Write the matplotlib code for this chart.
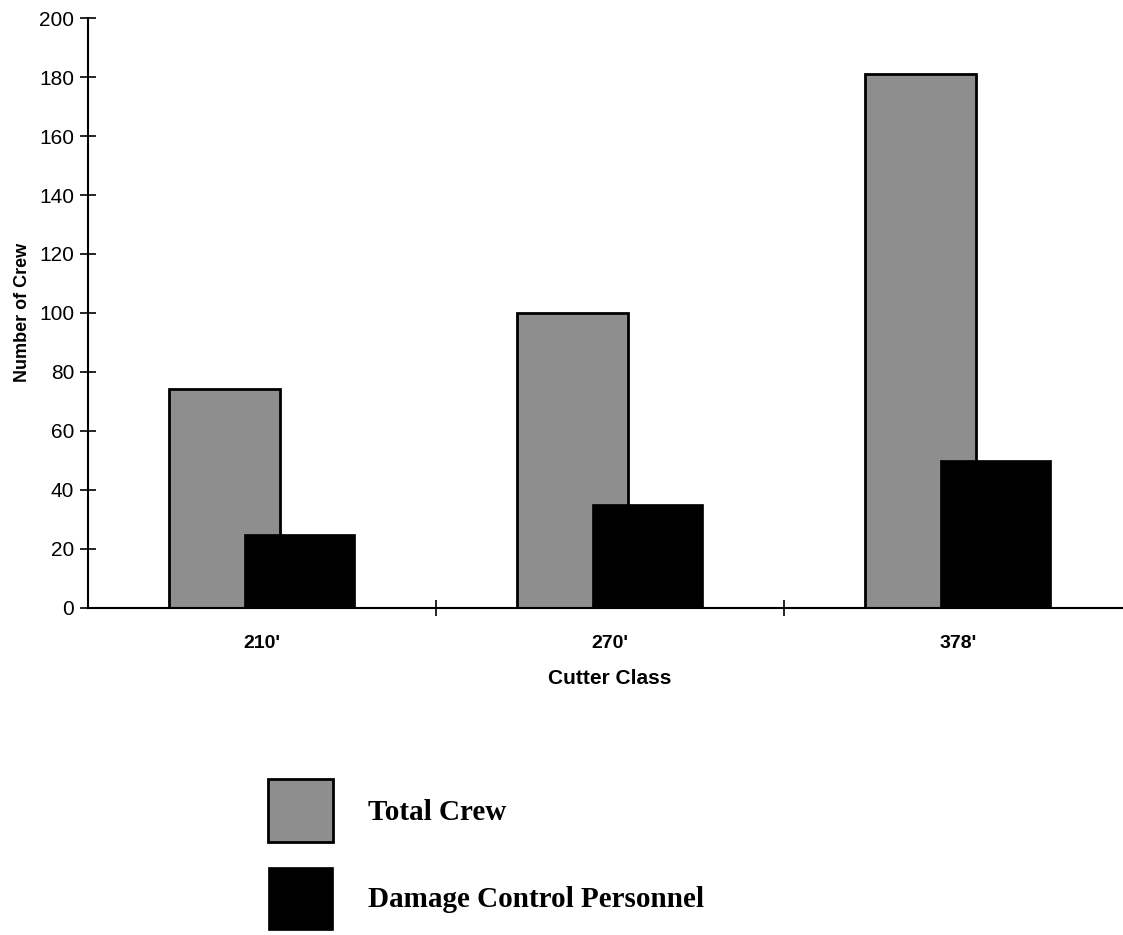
import matplotlib
matplotlib.use("Agg")
import matplotlib.pyplot as plt
import numpy as np

categories = ["210'", "270'", "378'"]
total_crew = [74, 100, 181]
damage_control = [25, 35, 50]
y_ticks = [0, 20, 40, 60, 80, 100, 120, 140, 160, 180, 200]

fig = plt.figure(figsize=(11.23, 9.35), dpi=100)
ax = fig.add_axes([88/1123, 1-607.5/935, 1044/1123, (607.5-18.3)/935])

x = np.arange(len(categories))
w = 0.32
off = 0.108
b1 = ax.bar(x - off, total_crew, width=w, color="#8e8e8e", edgecolor="black",
            linewidth=2, label="Total Crew", zorder=2)
b2 = ax.bar(x + off, damage_control, width=w, color="black", edgecolor="black",
            linewidth=0.5, label="Damage Control Personnel", zorder=3)

ax.set_xlim(-0.5, 2.5)
ax.set_ylim(0, 200)
ax.set_yticks(y_ticks)
ax.tick_params(axis="y", direction="inout", length=12, width=1.2, labelsize=15, pad=4)
for lab in ax.get_yticklabels():
    lab.set_family("Liberation Sans")

ax.set_xticks([0.5, 1.5, 2.5])
ax.set_xticklabels([])
ax.tick_params(axis="x", which="major", direction="inout", length=12, width=1.2)
ax.set_xticks(x, minor=True)
ax.set_xticklabels(categories, minor=True, fontsize=14, fontweight="bold",
                   family="Liberation Sans")
ax.tick_params(axis="x", which="minor", length=0, pad=20)

for s in ["top", "right"]:
    ax.spines[s].set_visible(False)
ax.spines["left"].set_linewidth(1.5)
ax.spines["bottom"].set_linewidth(1.5)

ax.set_ylabel("Number of Crew", fontsize=13, fontweight="bold", family="Liberation Sans", labelpad=6)
ax.set_xlabel("Cutter Class", fontsize=15, fontweight="bold", family="Liberation Sans", labelpad=12)

leg = fig.legend(handles=[b1, b2], loc="upper left",
                 bbox_to_anchor=(248/1123, 1-759/935),
                 frameon=False,
                 prop={"family": "Liberation Serif", "weight": "bold", "size": 21},
                 handlelength=2.2, handleheight=2.95, handletextpad=1.2,
                 labelspacing=0.85, borderpad=0.2)

fig.savefig("out.png", dpi=100)
